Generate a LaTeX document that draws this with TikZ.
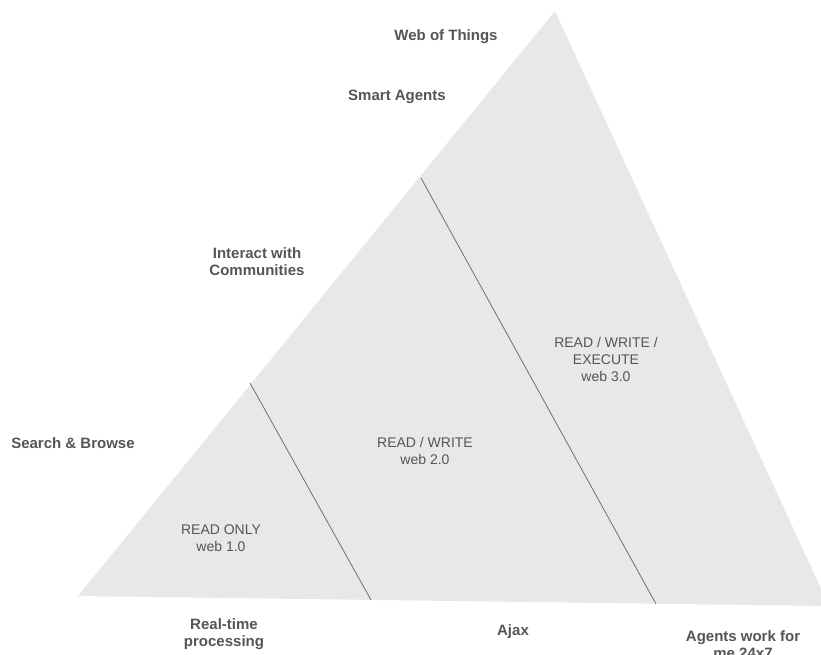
\documentclass[tikz,border=0pt]{standalone}
\usepackage{fontspec}
\setmainfont{Liberation Sans}
\definecolor{trifill}{HTML}{E8E8E8}
\definecolor{labgray}{HTML}{555555}
\definecolor{divgray}{HTML}{707070}
\begin{document}
\begin{tikzpicture}[x=1pt,y=-1pt,
  lab/.style={font=\fontsize{15}{17}\selectfont\bfseries, text=labgray, align=center, inner sep=0pt},
  era/.style={font=\fontsize{14}{17}\selectfont, text=labgray, align=center, inner sep=0pt},
  divider/.style={draw=divgray, line width=0.8pt}]
\useasboundingbox (0,0) rectangle (821,655);
\begin{scope}
\clip (0,0) rectangle (821,655);
\coordinate (apex) at (555,11);
\coordinate (bl) at (78,596);
\coordinate (br) at (829,606);
\fill[trifill] (apex) -- (bl) -- (br) -- cycle;
\coordinate (d1t) at (250,383);
\coordinate (d1b) at (371,600);
\coordinate (d2t) at (421,178);
\coordinate (d2b) at (656,604);
\draw[divider] (d1t) -- (d1b);
\draw[divider] (d2t) -- (d2b);
\node[lab] (wot) at (446,37) {Web of Things};
\node[lab] (sa) at (397,97) {Smart Agents};
\node[lab] (iwc) at (257,262) {Interact with\\Communities};
\node[lab] (sb) at (73,443) {Search \& Browse};
\node[lab] (rtp) at (224,634) {Real-time\\processing};
\node[lab] (ajax) at (513,632) {Ajax};
\node[lab] (awf) at (743,645) {Agents work for\\me 24x7};
\node[era] (e1) at (221,538) {READ ONLY\\web 1.0};
\node[era] (e2) at (425,451) {READ / WRITE\\web 2.0};
\node[era] (e3) at (606,359) {READ / WRITE /\\EXECUTE\\web 3.0};
\end{scope}
\end{tikzpicture}
\end{document}
